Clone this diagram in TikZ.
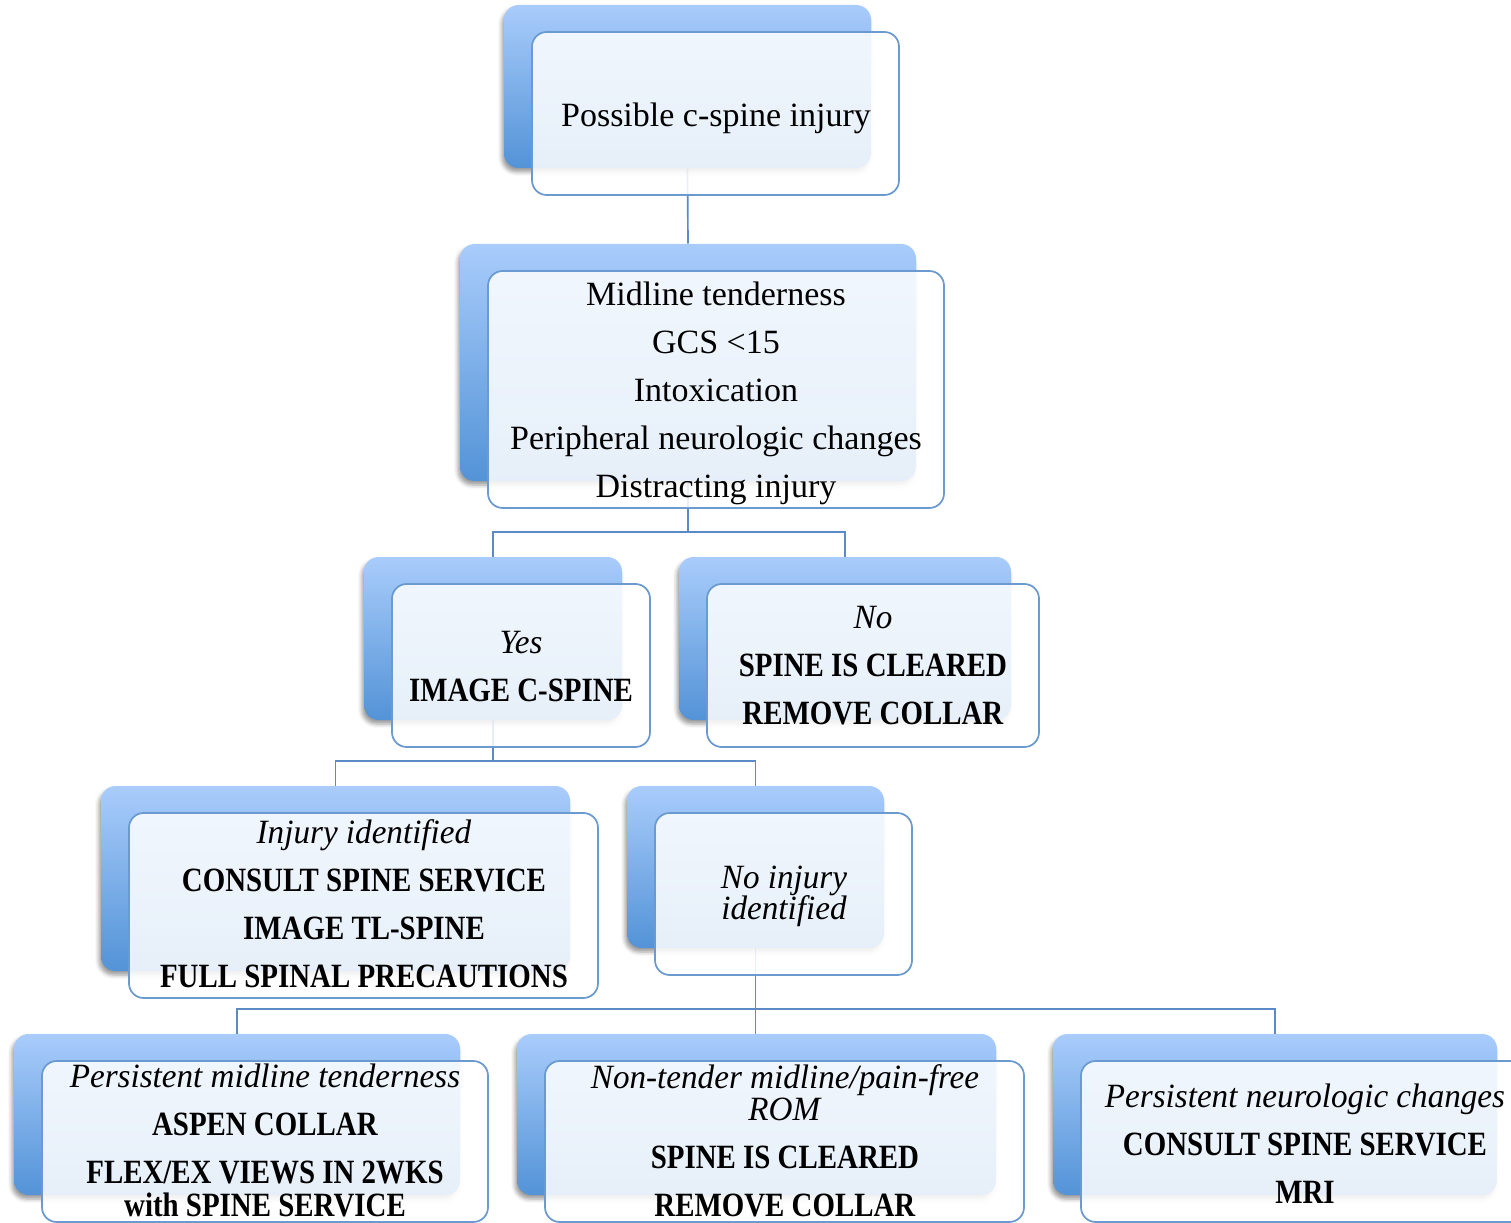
\documentclass[tikz,border=0pt]{standalone}
\usepackage{fontspec}
\setmainfont{Liberation Serif}[BoldFeatures={FakeStretch=0.85},ItalicFeatures={FakeStretch=0.975}]
\usetikzlibrary{shadows.blur}
\definecolor{backtop}{HTML}{A9CCFB}
\definecolor{backbot}{HTML}{5393D7}
\definecolor{framec}{HTML}{6A9AD0}
\definecolor{connc}{HTML}{5B8BC7}
\pgfdeclarelayer{bg}
\pgfsetlayers{bg,main}
\tikzset{
  backbox/.style={rectangle, rounded corners=11pt, top color=backtop, bottom color=backbot,
    draw=none, inner sep=0pt,
    blur shadow={shadow xshift=-1.5pt, shadow yshift=-3pt, shadow blur radius=3pt, shadow opacity=40}},
  frontbox/.style={rectangle, rounded corners=11pt, fill=white, fill opacity=0.86,
    draw=framec, draw opacity=1, line width=1.3pt, inner sep=0pt},
  conn/.style={draw=connc, line width=1.25pt},
  txt/.style={inner sep=0pt, align=center, anchor=north, yshift=25.2pt,
    font=\fontsize{25.5pt}{36pt}\selectfont},
}
% name, left, top, right, bottom of the back box (px)
\newcommand\pairbox[5]{%
  \node[backbox, minimum width={(#4-#2)*0.75pt}, minimum height={(#5-#3)*0.75pt}]
    (#1b) at ({(#2+#4)/2},{(#3+#5)/2}) {};
  \node[frontbox, minimum width={(#4-#2)*0.75pt}, minimum height={(#5-#3)*0.75pt}]
    (#1f) at ({(#2+#4)/2+28},{(#3+#5)/2+27}) {};
}
\begin{document}
\begin{tikzpicture}[x=0.75pt, y=-0.75pt]
\useasboundingbox (0,0) rectangle (1511,1223);
\clip (0,0) rectangle (1511,1223);

\pairbox{top}{504}{5}{871}{168}
\pairbox{mid}{460}{244}{916}{481}
\pairbox{yes}{364}{557}{622}{720}
\pairbox{no}{679}{557}{1011}{720}
\pairbox{inj}{101}{786}{570}{971}
\pairbox{noinj}{627}{786}{884}{948}
\pairbox{pa}{14}{1034}{460}{1195}
\pairbox{pb}{517}{1034}{996}{1195}
\pairbox{pc}{1053}{1034}{1497}{1195}

\begin{pgfonlayer}{bg}
  \coordinate (j1) at (688,532);
  \coordinate (j2) at (493,761);
  \coordinate (j3) at (756,1009);
  \draw[conn] (topb.south) -- (midb.north);
  \draw[conn] (midb.south) -- (midb.south |- j1);
  \draw[conn] (yesb.north) |- (j1) -| (nob.north);
  \draw[conn] (yesb.south) -- (yesb.south |- j2);
  \draw[conn] (injb.north) |- (j2) -| (noinjb.north);
  \draw[conn] (noinjb.south) -- (noinjb.south |- pbb.north);
  \draw[conn] (pab.north) |- (j3) -| (pcb.north);
\end{pgfonlayer}

\node[txt] (t1) at (716,126) {\strut Possible c-spine injury};
\node[txt] (t2) at (716,305) {\strut Midline tenderness\\GCS <15\\Intoxication\\Peripheral neurologic changes\\Distracting injury};
\node[txt] (t3) at (521,653) {\strut\textit{Yes}\\\textbf{IMAGE C-SPINE}};
\node[txt] (t4) at (873,628) {\strut\textit{No}\\\textbf{SPINE IS CLEARED}\\\textbf{REMOVE COLLAR}};
\node[txt] (t5) at (364,843) {\strut\textit{Injury identified}\\\textbf{CONSULT SPINE SERVICE}\\\textbf{IMAGE TL-SPINE}\\\textbf{FULL SPINAL PRECAUTIONS}};
\node[txt] (t6) at (784,888) {\strut\textit{No injury}\\[-12.75pt]\textit{identified}};
\node[txt] (t7) at (265,1087) {\strut\textit{Persistent midline tenderness}\\\textbf{ASPEN COLLAR}\\\textbf{FLEX/EX VIEWS IN 2WKS}\\[-11.25pt]\textbf{with SPINE SERVICE}};
\node[txt] (t8) at (785,1088) {\strut\textit{Non-tender midline/pain-free}\\[-12pt]\textit{ROM}\\\textbf{SPINE IS CLEARED}\\\textbf{REMOVE COLLAR}};
\node[txt] (t9) at (1305,1107) {\strut\textit{Persistent neurologic changes}\\\textbf{CONSULT SPINE SERVICE}\\\textbf{MRI}};
\end{tikzpicture}
\end{document}
